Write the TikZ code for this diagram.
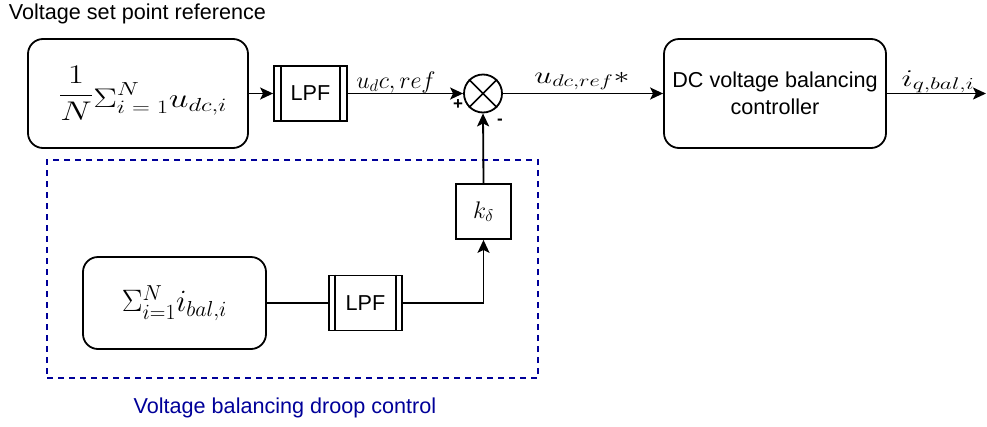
\RequirePackage{fix-cm}
\documentclass[tikz,border=0pt]{standalone}
\usepackage[no-math]{fontspec}
\usepackage{graphicx}
\setmainfont{Liberation Sans}
\usetikzlibrary{arrows.meta}
\definecolor{navy}{RGB}{0,0,153}
\newcommand\txtsz{\fontsize{21.6}{27}\selectfont}
\begin{document}
\begin{tikzpicture}[x=1pt,y=-1pt,line width=1.8pt,
  >={Stealth[length=13pt,width=12pt,inset=3pt]},
  rbox/.style={draw,rounded corners=15pt,inner sep=0pt,align=center,font=\txtsz},
  lpfbox/.style={draw,inner sep=0pt,font=\txtsz,minimum width=73pt,minimum height=55pt},
  sqbox/.style={draw,inner sep=0pt,minimum width=55pt,minimum height=55pt},
  sumnode/.style={draw,circle,inner sep=0pt,minimum size=38pt},
  mlabel/.style={anchor=base,inner sep=0pt,font=\fontsize{24}{28}\selectfont},
  plain/.style={inner sep=0pt,font=\txtsz}]
\useasboundingbox (0,0) rectangle (987,426);

% title
\node[plain,anchor=base west] (title) at (8,19.5) {Voltage set point reference};

% top row
\node[rbox,minimum width=220pt,minimum height=109pt] (b1) at (138,93.5)
  {\hspace*{10pt}\fontsize{27}{32}\selectfont\scalebox{1.31}[1]{$\displaystyle\raisebox{5pt}{$\displaystyle\frac{1}{N}$}\Sigma_{i\;=\;1}^{N}u_{dc,i}$}};
\node[lpfbox] (l1) at (310.5,93.5) {LPF};
\draw[line width=1.6pt] ([xshift=8pt]l1.north west) -- ([xshift=8pt]l1.south west);
\draw[line width=1.6pt] ([xshift=-8pt]l1.north east) -- ([xshift=-8pt]l1.south east);
\node[sumnode] (s) at (483,93.5) {};
\draw[line width=1.6pt] (s.north west) -- (s.south east) (s.north east) -- (s.south west);
\node[rbox,minimum width=222pt,minimum height=109pt] (dc) at (775,93.5)
  {DC voltage balancing\\controller};
\coordinate (out) at (986,93.5);

% droop frame
\node[draw=navy,dash pattern=on 6pt off 5pt,line width=1.6pt,inner sep=0pt,
  minimum width=491pt,minimum height=218pt] (frame) at (292.5,269) {};
\node[plain,text=navy,anchor=base] (flabel) at (285,413) {Voltage balancing droop control};

\node[sqbox] (kd) at (483.5,211.5) {\fontsize{24}{28}\selectfont$k_\delta$};
\node[rbox,minimum width=183pt,minimum height=92pt] (b2) at (174.5,303)
  {\fontsize{31}{35}\selectfont$\Sigma_{i=1}^{N}i_{bal,i}$};
\node[lpfbox] (l2) at (365.5,303) {LPF};
\draw[line width=1.6pt] ([xshift=7pt]l2.north west) -- ([xshift=7pt]l2.south west);
\draw[line width=1.6pt] ([xshift=-7pt]l2.north east) -- ([xshift=-7pt]l2.south east);

% connectors
\draw[->] (b1.east) -- (l1.west);
\draw[->] (l1.east) -- (s.west);
\draw[->] (s.east) -- (dc.west);
\draw[->] (dc.east) -- (out);
\draw (b2.east) -- (l2.west);
\draw[->] (l2.east) -| (kd.south);
\draw[->] (kd.north) -- (s.south);

% labels
\node[mlabel] (lab1) at (396,88) {$u_dc, ref$};
\node[mlabel] (lab2) at (582,83) {\scalebox{1.33}[1]{$u_{dc,ref}*$}};
\node[mlabel] (lab3) at (938,86) {\scalebox{1.4}[1]{$i_{q,bal,i}$}};
\node[inner sep=0pt,font=\fontsize{17}{20}\selectfont\bfseries] (plus) at (458,105) {+};
\node[inner sep=0pt,font=\fontsize{17}{20}\selectfont\bfseries] (minus) at (500,122) {-};
\end{tikzpicture}
\end{document}
